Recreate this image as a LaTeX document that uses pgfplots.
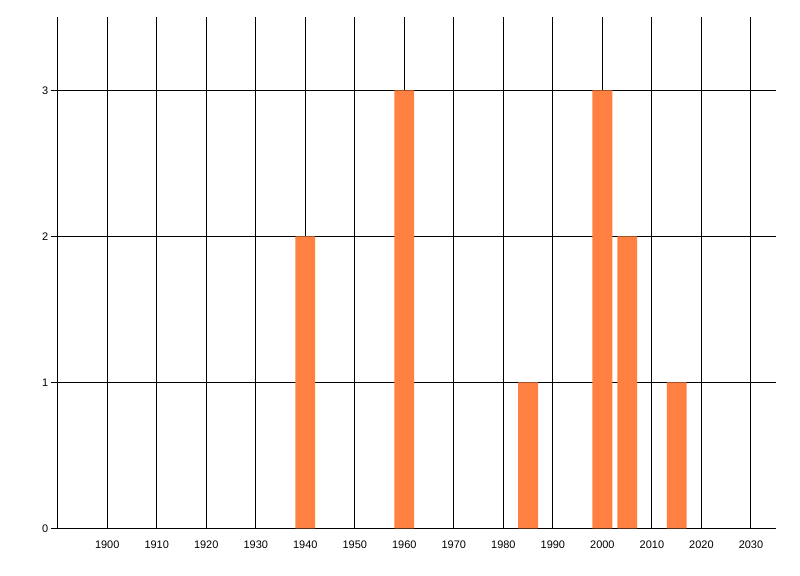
\documentclass[border=0pt]{standalone}
\usepackage{fontspec}
\setmainfont{Liberation Sans}
\usepackage{pgfplots}
\pgfplotsset{compat=1.18}
\definecolor{barorange}{RGB}{255,128,64}
\begin{document}
\begin{tikzpicture}
\useasboundingbox (0,0) rectangle (800bp,576bp);
\begin{axis}[
  at={(57.7bp,47.7bp)}, anchor=south west,
  scale only axis, width=718bp, height=511bp,
  xmin=1890, xmax=2035, ymin=0, ymax=3.5,
  axis lines*=left,
  axis line style={-, line width=1.1bp, black},
  xtick={1900,1910,...,2030},
  ytick={0,1,2,3},
  xticklabel style={/pgf/number format/1000 sep={}},
  /pgf/number format/assume math mode=true,
  tick label style={font=\fontsize{11}{13}\selectfont, text=black},
  xtick style={draw=none},
  ytick style={line width=1.1bp, black},
  tick align=outside,
  major tick length=7bp,
  xmajorgrids, ymajorgrids,
  major grid style={line width=1.1bp, black},
  xticklabel style={yshift=-2bp},
  yticklabel style={xshift=1bp},
  clip=false,
]
\addplot[ybar, bar width=4, fill=barorange, draw=none, bar shift=0pt] coordinates {
  (1940,2) (1960,3) (1985,1) (2000,3) (2005,2) (2015,1)
};
\end{axis}
\end{tikzpicture}
\end{document}
